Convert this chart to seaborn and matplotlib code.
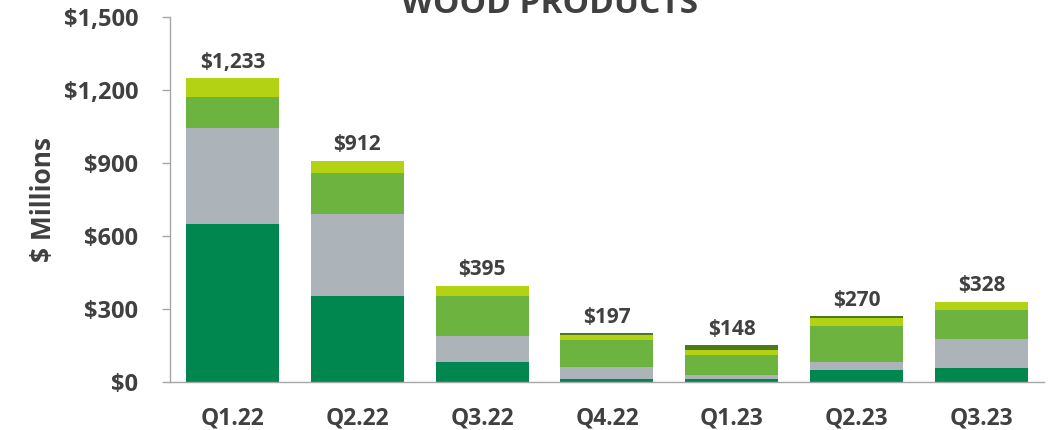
import numpy as np
import pandas as pd
import seaborn as sns
import matplotlib.pyplot as plt

# Quarterly wood products data ($ millions)
quarters = ['Q1.22', 'Q2.22', 'Q3.22', 'Q4.22', 'Q1.23', 'Q2.23', 'Q3.23']
dark_green = [649, 351, 82, 10, 10, 48, 58]
gray = [394, 338, 106, 51, 18, 34, 117]
mid_green = [130, 172, 165, 112, 81, 147, 121]
light_green = [76, 48, 41, 19, 23, 32, 34]
dark_top = [0, 0, 0, 7, 18, 9, 0]
totals = [1233, 912, 395, 197, 148, 270, 328]

series = [dark_green, gray, mid_green, light_green, dark_top]
colors = ['#00874F', '#ADB4B9', '#6CB33F', '#B3D214', '#4B7A1C']

sns.set_style('white')
plt.rcParams['font.family'] = ['Open Sans', 'DejaVu Sans']
text_col = '#404040'
axis_col = '#A6A6A6'

fig = plt.figure(figsize=(10.56, 4.30), dpi=100)
ax = fig.add_axes([0.161, 0.1123, 0.8276, 0.8475])

df = pd.DataFrame({'quarter': quarters})
bottom = np.zeros(len(quarters))
for vals, col in zip(series, colors):
    df['value'] = vals
    sns.barplot(data=df, x='quarter', y='value', color=col, width=0.745,
                bottom=bottom, linewidth=0, saturation=1, ax=ax)
    bottom = bottom + np.array(vals)

# total labels above each bar
for i, (h, t) in enumerate(zip(bottom, totals)):
    ax.annotate(f'${t:,}', (i, h), xytext=(0, 4), textcoords='offset points',
                ha='center', va='bottom', fontsize=15, fontweight='bold',
                color=text_col)

ax.set_xlim(-0.5, len(quarters) - 0.5)
ax.set_ylim(0, 1500)
ax.set_yticks(range(0, 1501, 300))
ax.set_yticklabels([f'${v:,}' for v in range(0, 1501, 300)])
ax.set_xticks(range(len(quarters)))
ax.set_xticklabels(quarters)
# x ticks between categories
ax.set_xticks(np.arange(-0.5, len(quarters)), minor=True)
ax.tick_params(axis='x', which='major', length=0, pad=18)
ax.tick_params(axis='x', which='minor', length=6, width=1, color=axis_col, direction='out')
ax.tick_params(axis='y', length=6, width=1, color=axis_col, direction='out', pad=17, left=True)
for lab in ax.get_yticklabels():
    lab.set_fontsize(17)
    lab.set_fontweight('bold')
    lab.set_color(text_col)
for lab in ax.get_xticklabels():
    lab.set_fontsize(16.5)
    lab.set_fontweight('bold')
    lab.set_color(text_col)

ax.set_xlabel('')
ax.set_ylabel('$ Millions', fontsize=19, fontweight='bold', color=text_col, labelpad=5)
sns.despine(ax=ax)
for s in ['left', 'bottom']:
    ax.spines[s].set_color(axis_col)
    ax.spines[s].set_linewidth(1)

fig.text(550 / 1056, 1 - 13 / 430, 'WOOD PRODUCTS', ha='center', va='baseline',
         fontsize=24, fontweight='bold', color=text_col)

fig.savefig('out.png', dpi=100)
